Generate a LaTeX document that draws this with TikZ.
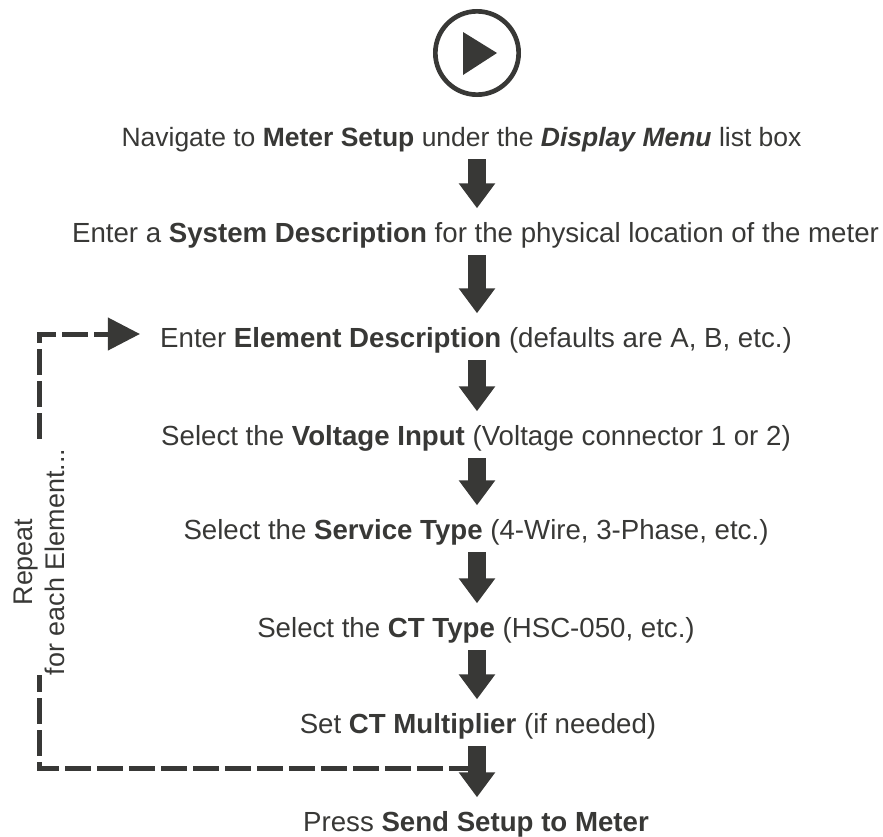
\documentclass[tikz,border=0pt]{standalone}
\usepackage{fontspec}
\setmainfont{Liberation Sans}
\usetikzlibrary{arrows.meta}
\definecolor{darkink}{HTML}{383836}
\begin{document}
\begin{tikzpicture}[x=0.03cm,y=0.03cm]
        \tikzstyle{every node}+=[inner sep=0pt, text=darkink]
        \tikzstyle{steptext}=[font=\fontsize{23.6}{28}\selectfont, text height=0.5cm, text depth=0.15cm]
        \tikzstyle{blockarrow}=[draw=darkink, line width=0.54cm, -{Triangle[width=1.05cm,length=0.75cm]}, shorten <=0.21cm, shorten >=0.53cm]
        \tikzstyle{loopline}=[draw=darkink, line width=0.15cm, dash pattern=on 0.78cm off 0.18cm]
        \useasboundingbox (0,0) rectangle (883,-837);
        \node [circle, draw=darkink, line width=0.14cm, minimum size=2.5cm] (play) at (477,-53) {};
        \fill [darkink] (463,-32) -- (497,-53) -- (463,-75) -- cycle;
        \node [steptext, font=\fontsize{22.6}{28}\selectfont] (step1) at (461.5,-141) {Navigate to \textbf{Meter Setup} under the \textbf{\textit{Display Menu}} list box};
        \node [steptext] (step2) at (475.5,-237) {Enter a \textbf{System Description} for the physical location of the meter};
        \node [steptext] (step3) at (476,-342) {Enter \textbf{Element Description} (defaults are A, B, etc.)};
        \node [steptext] (step4) at (476,-440) {Select the \textbf{Voltage Input} (Voltage connector 1 or 2)};
        \node [steptext] (step5) at (476,-534) {Select the \textbf{Service Type} (4-Wire, 3-Phase, etc.)};
        \node [steptext] (step6) at (476,-632) {Select the \textbf{CT Type} (HSC-050, etc.)};
        \node [steptext] (step7) at (478,-728) {Set \textbf{CT Multiplier} (if needed)};
        \node [steptext] (step8) at (476,-826) {Press \textbf{Send Setup to Meter}};
        \node [rotate=90, align=center, font=\fontsize{23}{27.3}\selectfont] (repeat) at (39,-562) {Repeat\\for each Element...};
        \coordinate (axis) at (477,0);
        \coordinate (loopstart) at (475,-768);
        \coordinate (loopend) at (140,-334);
        \foreach \a/\b in {step1/step2,step2/step3,step3/step4,step4/step5,step5/step6,step6/step7,step7/step8}
            \draw [blockarrow] (axis |- \a.south) -- (axis |- \b.north);
        \draw [loopline] (loopstart) -| (repeat.west);
        \draw [loopline, shorten <=0.3cm, -{Triangle[width=0.95cm,length=0.96cm]}] (repeat.east) |- (loopend);
\end{tikzpicture}
\end{document}
